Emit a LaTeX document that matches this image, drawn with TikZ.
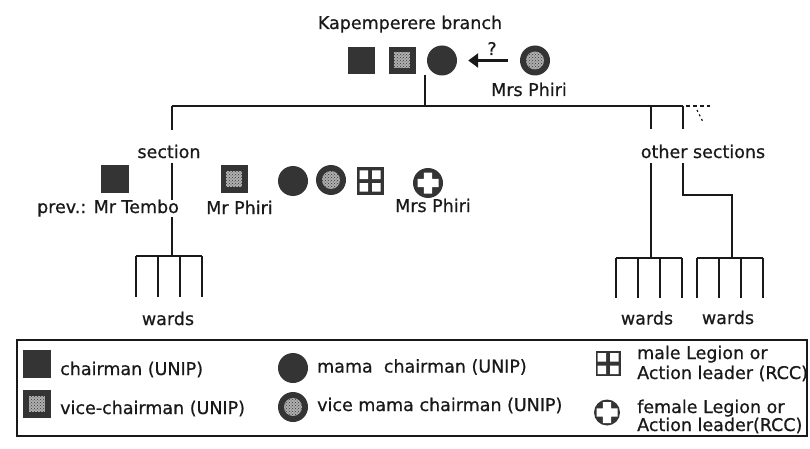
\documentclass[tikz,border=0pt]{standalone}
\usepackage{fontspec}
\setmainfont{DejaVu Sans}[FakeBold=0.7]
\usetikzlibrary{arrows.meta,calc,patterns}
\definecolor{darkc}{RGB}{52,52,52}
\definecolor{stipc}{RGB}{175,175,175}
\definecolor{linec}{RGB}{25,25,25}
\begin{document}
\begin{tikzpicture}[x=1pt,y=-1pt,
  txt/.style={font=\fontsize{17.5}{20}\selectfont, inner sep=0pt, text=linec},
  ln/.style={line width=2.2pt, draw=linec},
  chairsq/.style={rectangle, fill=darkc, minimum size=27pt, inner sep=0pt},
  vicesq/.style={chairsq, path picture={
     \fill[stipc, shift={(path picture bounding box.center)}] (-8pt,-8pt) rectangle (8pt,8pt);
     \fill[pattern=crosshatch dots, pattern color=darkc, shift={(path picture bounding box.center)}] (-8pt,-8pt) rectangle (8pt,8pt);}},
  mamac/.style={circle, fill=darkc, minimum size=30pt, inner sep=0pt},
  vicemc/.style={mamac, path picture={
     \fill[stipc, shift={(path picture bounding box.center)}] (0pt,0pt) circle[radius=9pt];
     \fill[pattern=crosshatch dots, pattern color=darkc, shift={(path picture bounding box.center)}] (0pt,0pt) circle[radius=9pt];}},
  legionsq/.style={rectangle, fill=darkc, minimum size=27pt, inner sep=0pt, path picture={
     \fill[white, shift={(path picture bounding box.center)}]
       (2pt,2pt) rectangle (10.5pt,10.5pt) (-2pt,2pt) rectangle (-10.5pt,10.5pt)
       (2pt,-2pt) rectangle (10.5pt,-10.5pt) (-2pt,-2pt) rectangle (-10.5pt,-10.5pt);}},
  femc/.style={circle, fill=darkc, minimum size=30pt, inner sep=0pt, path picture={
     \fill[white, shift={(path picture bounding box.center)}]
       (-10.5pt,-4.2pt) rectangle (10.5pt,4.2pt) (-4.2pt,-10.5pt) rectangle (4.2pt,10.5pt);}},
  arr/.style={line width=3.5pt, draw=linec, -{Triangle[length=10pt,width=14pt]}, shorten <=12pt, shorten >=11pt},
  boxln/.style={line width=2.2pt, draw=linec},
]
\useasboundingbox (0,0) rectangle (810,449);

% ---------- tree lines ----------
\coordinate (bstem) at (425,75);
\coordinate (bj) at (425,106);
\coordinate (hl) at (172,106);
\coordinate (hr) at (683,106);
\draw[ln] (bstem) -- (bj);
\draw[ln] (hl) -- (hr);

% left section
\coordinate (sA) at (172,130);
\coordinate (sB) at (172,163);
\coordinate (lfk) at (172,256);
\coordinate (lfkL) at (136,256);
\coordinate (lfkR) at (202,256);
\draw[ln] (hl) -- (sA);
\draw[ln] (sB) -- (lfk);
\draw[ln] (lfkL) -- (lfkR);
\foreach \x [count=\i] in {136,158,180,202}{
  \coordinate (lw\i t) at (\x,256);
  \coordinate (lw\i b) at (\x,297);
  \draw[ln] (lw\i t) -- (lw\i b);
}

% other sections
\coordinate (o1) at (651,106);
\coordinate (o1a) at (651,129);
\coordinate (o1b) at (651,163);
\coordinate (o1f) at (651,258);
\draw[ln] (o1) -- (o1a);
\draw[ln] (o1b) -- (o1f);
\coordinate (o1L) at (616,258);
\coordinate (o1R) at (682,258);
\draw[ln] (o1L) -- (o1R);
\foreach \x [count=\i] in {616,638,660,682}{
  \coordinate (ra\i t) at (\x,258);
  \coordinate (ra\i b) at (\x,298);
  \draw[ln] (ra\i t) -- (ra\i b);
}
\coordinate (o2a) at (683,129);
\coordinate (o2b) at (683,163);
\coordinate (o2c) at (683,195);
\coordinate (o2d) at (732,195);
\coordinate (o2f) at (732,258);
\draw[ln] (hr) -- (o2a);
\draw[ln] (o2b) -- (o2c) -- (o2d) -- (o2f);
\coordinate (o2L) at (697,258);
\coordinate (o2R) at (763,258);
\draw[ln] (o2L) -- (o2R);
\foreach \x [count=\i] in {697,719,741,763}{
  \coordinate (rb\i t) at (\x,258);
  \coordinate (rb\i b) at (\x,298);
  \draw[ln] (rb\i t) -- (rb\i b);
}
% dotted continuation
\coordinate (dA) at (686,106);
\coordinate (dB) at (710,106);
\coordinate (dC) at (697,110);
\coordinate (dD) at (703,122);
\draw[ln, dash pattern=on 4pt off 3pt] (dA) -- (dB);
\draw[ln, line width=1.2pt, dash pattern=on 2pt off 3pt] (dC) -- (dD);

% ---------- branch level ----------
\node[txt, anchor=base] (branch) at (410,29) {Kapemperere branch};
\node[chairsq] (bch) at (361,60.5) {};
\node[vicesq] (bvc) at (402,60.5) {};
\node[mamac] (bmc) at (442,60.5) {};
\node[vicemc] (bmrs) at (535,60.5) {};
\draw[arr] (bmrs.west) -- (bmc.east);
\node[txt, anchor=base] (q) at (492,55) {?};
\node[txt, anchor=base] (bmrslbl) at (529,96) {Mrs Phiri};

% ---------- section level ----------
\node[txt, anchor=base] (sec) at (169,158) {section};
\node[chairsq, minimum size=28pt] (sch) at (115,179) {};
\node[txt, anchor=base, fill=white] (tembo) at (108,213) {prev.: Mr Tembo};
\node[vicesq] (svc) at (234,179) {};
\node[txt, anchor=base] (sphiri) at (239.5,214) {Mr Phiri};
\node[mamac] (smc) at (293,181) {};
\node[vicemc] (svmc) at (331,180) {};
\node[legionsq] (sleg) at (370,181) {};
\node[femc] (sfem) at (428,183) {};
\node[txt, anchor=base] (smrs) at (433,212) {Mrs Phiri};

\node[txt, anchor=base] (other) at (703,158) {other sections};
\node[txt, anchor=base] (w1) at (168,325) {wards};
\node[txt, anchor=base] (w2) at (647,324.5) {wards};
\node[txt, anchor=base] (w3) at (728,324) {wards};

% ---------- legend ----------
\coordinate (lgA) at (17,340);
\coordinate (lgB) at (807,436);
\draw[boxln] (lgA) rectangle (lgB);
\node[chairsq, minimum size=28pt] (lch) at (37,364) {};
\node[txt, anchor=base west] (lcht) at (60,375) {chairman (UNIP)};
\node[vicesq, minimum size=28pt] (lvc) at (37,404) {};
\node[txt, anchor=base west] (lvct) at (60,414) {vice-chairman (UNIP)};
\node[mamac] (lmc) at (293,368) {};
\node[txt, anchor=base west] (lmct) at (317,372.5) {mama\ \ chairman (UNIP)};
\node[vicemc] (lvmc) at (293,407) {};
\node[txt, anchor=base west] (lvmct) at (317,411) {vice mama chairman (UNIP)};
\node[legionsq, minimum size=25pt] (lleg) at (608,363.5) {};
\node[txt, anchor=base west] (llegt1) at (637,359) {male Legion or};
\node[txt, anchor=base west] (llegt2) at (637,379) {Action leader (RCC)};
\node[femc, minimum size=26pt] (lfem) at (607,412.5) {};
\node[txt, anchor=base west] (lfemt1) at (637,413) {female Legion or};
\node[txt, anchor=base west] (lfemt2) at (637,431) {Action leader(RCC)};
\end{tikzpicture}
\end{document}
